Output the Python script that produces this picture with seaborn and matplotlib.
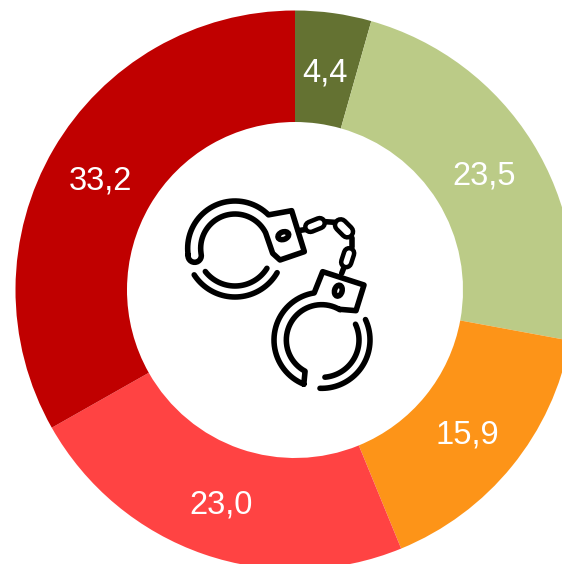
import numpy as np
from matplotlib import pyplot as plt
from matplotlib.patches import Ellipse
from matplotlib.transforms import ScaledTranslation
import seaborn as sns

values = [4.4, 23.5, 15.9, 23.0, 33.2]
colors = ['#647232', '#BBCB87', '#FD9418', '#FF4343', '#C00000']

W, H = 562, 564
ICON_LW = 4.0

sns.set_theme(style='white')
plt.rcParams['font.family'] = ['Liberation Sans', 'DejaVu Sans']


def arc(cx, cy, r, a0, a1, n=40):
    # angles in degrees, measured in the zoom crop (y goes down)
    t = np.radians(np.linspace(a0, a1, n))
    return np.column_stack([cx + r * np.cos(t), cy + r * np.sin(t)])


def icon_xy(pts):
    # crop coords (3x, origin 170,190) to figure pixels
    pts = np.asarray(pts, dtype=float)
    return 170 + pts[:, 0] / 3, H - (190 + pts[:, 1] / 3)


def stroke(ax, pts, lw=ICON_LW, color='black'):
    x, y = icon_xy(pts)
    ax.plot(x, y, color=color, lw=lw, solid_capstyle='round', solid_joinstyle='round')


def link(ax, cx, cy, length, width, angle):
    # chain link: thick black line with a white core
    t = np.radians(angle)
    dx, dy = np.cos(t) * (length - width) / 2, np.sin(t) * (length - width) / 2
    pts = [(cx - dx, cy - dy), (cx + dx, cy + dy)]
    stroke(ax, pts, lw=width / 3 * 0.72)
    stroke(ax, pts, lw=(width / 3 - 9) * 0.72, color='white')


def draw_handcuffs(ax):
    # left cuff
    outer = arc(195, 175, 142, 172, 315)
    box = [(365, 62), (403, 185), (330, 210), (308, 190)]
    inner = arc(195, 175, 103, 333, 172)
    cap = arc(74, 197, 20, 0, 180, 12)
    stroke(ax, np.vstack([outer, box, inner, cap, outer[:1]]))
    stroke(ax, arc(195, 175, 146, 147, 30))
    stroke(ax, arc(195, 175, 113, 142, 32))
    x, y = icon_xy([(340, 137)])
    ax.add_patch(Ellipse((x[0], y[0]), 11, 7.5, angle=20, fill=False, ec='black', lw=ICON_LW))

    # right cuff
    outer = arc(455, 450, 143, 112, 261)
    box = [(458, 245), (582, 285), (558, 362), (510, 358)]
    inner = arc(455, 450, 106, 301, 118)
    stroke(ax, np.vstack([outer, box, inner, outer[:1]]))
    stroke(ax, arc(455, 450, 145, -25, 92))
    stroke(ax, arc(455, 450, 112, -25, 85))
    x, y = icon_xy([(505, 302)])
    ax.add_patch(Ellipse((x[0], y[0]), 7.5, 11, angle=-15, fill=False, ec='black', lw=ICON_LW))

    # chain
    stroke(ax, [(385, 122), (410, 118)])
    stroke(ax, [(465, 95), (495, 97)])
    stroke(ax, [(545, 145), (545, 170)])
    stroke(ax, [(522, 232), (515, 250)])
    link(ax, 435, 105, 74, 44, -22)
    link(ax, 522, 115, 76, 48, 45)
    link(ax, 533, 203, 72, 44, -72)


fig = plt.figure(figsize=(W / 100, H / 100), dpi=100)
ax = fig.add_axes([0, 0, 1, 1])
wedges, texts, autotexts = ax.pie(values, colors=colors, startangle=90, counterclock=False,
                                  center=(295, H - 290), radius=279.5,
                                  wedgeprops={'width': 111.5, 'linewidth': 0},
                                  autopct=lambda p: f'{p:.1f}'.replace('.', ','), pctdistance=0.8,
                                  textprops={'color': 'white', 'fontsize': 23.5})
# labels sit a little lower than the wedge middle
for t in autotexts:
    t.set_transform(t.get_transform() + ScaledTranslation(-1 / 100, -4 / 100, fig.dpi_scale_trans))
draw_handcuffs(ax)
ax.set_xlim(0, W)
ax.set_ylim(0, H)
ax.axis('off')

plt.savefig('out.png', dpi=100)
